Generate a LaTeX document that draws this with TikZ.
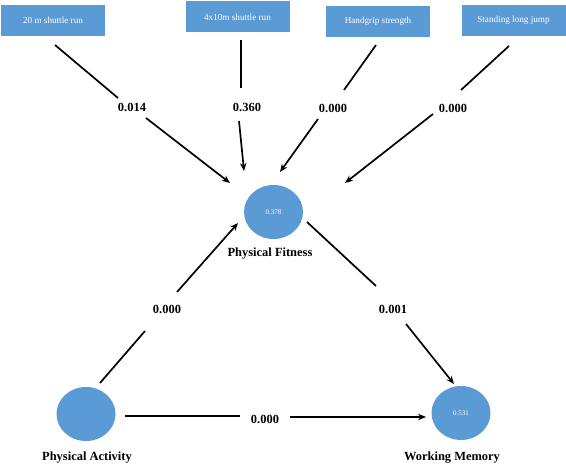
\documentclass[tikz,border=0pt]{standalone}
\usepackage{fontspec}
\setmainfont{Liberation Serif}
\usetikzlibrary{arrows.meta,shapes.geometric}
\definecolor{boxblue}{HTML}{5B9BD5}
\begin{document}
\begin{tikzpicture}[x=1bp,y=-1bp,
  mbox/.style={fill=boxblue, draw=none, minimum width=104bp, minimum height=31bp, inner sep=0pt,
    text=white, font=\fontsize{9.2}{11}\selectfont},
  latent/.style={ellipse, fill=boxblue, draw=none, minimum width=59bp, minimum height=54bp, inner sep=0pt,
    text=white, font=\fontsize{7}{8}\selectfont},
  lab/.style={font=\bfseries\fontsize{12.5}{14}\selectfont, inner sep=1pt},
  con/.style={line width=1.7bp},
  arr/.style={con, -{Stealth[length=8bp,width=6.5bp]}}]
\useasboundingbox (0,0) rectangle (566,466);

% indicator boxes
\node[mbox] (b1) at (53,20.5) {20 m shuttle run};
\node[mbox] (b2) at (237.5,17) {4x10m shuttle run};
\node[mbox] (b3) at (378,21.5) {Handgrip strength};
\node[mbox] (b4) at (513.5,20.5) {Standing long jump};

% latent variables
\node[latent] (pf) at (273.5,212) {0.378};
\node[latent] (pa) at (86,414) {};
\node[latent] (wm) at (461,413) {0.531};

\node[lab] (pfl) at (270,254) {Physical Fitness};
\node[lab] (pal) at (87,458) {Physical Activity};
\node[lab] (wml) at (452,458) {Working Memory};

% path labels
\node[lab] (l1) at (132,107) {0.014};
\node[lab] (l2) at (247,107) {0.360};
\node[lab] (l3) at (333,108) {0.000};
\node[lab] (l4) at (453,108) {0.000};
\node[lab] (l5) at (167,309) {0.000};
\node[lab] (l6) at (393,309) {0.001};
\node[lab] (l7) at (265,419) {0.000};

% segment end points
\coordinate (a1s) at (55,45);   \coordinate (a1m) at (118,98);
\coordinate (a1n) at (146,118); \coordinate (a1t) at (230,183);
\coordinate (a2s) at (241,40);  \coordinate (a2m) at (241,88);
\coordinate (a2n) at (239,121); \coordinate (a2t) at (244,171);
\coordinate (a3s) at (376,45);  \coordinate (a3m) at (344,90);
\coordinate (a3n) at (318,119); \coordinate (a3t) at (280,172);
\coordinate (a4s) at (509,46);  \coordinate (a4m) at (461,90);
\coordinate (a4n) at (433,114); \coordinate (a4t) at (345,183);
\coordinate (a5s) at (100,383); \coordinate (a5m) at (145,331);
\coordinate (a5n) at (177,292); \coordinate (a5t) at (238,223);
\coordinate (a6s) at (307,222); \coordinate (a6m) at (376,286);
\coordinate (a6n) at (406,324); \coordinate (a6t) at (454,384);
\coordinate (a7s) at (125,416); \coordinate (a7m) at (240,416);
\coordinate (a7n) at (290,417); \coordinate (a7t) at (426,417);

\foreach \i in {1,...,7}{
  \draw[con] (a\i s) -- (a\i m);
  \draw[arr] (a\i n) -- (a\i t);
}
\end{tikzpicture}
\end{document}
